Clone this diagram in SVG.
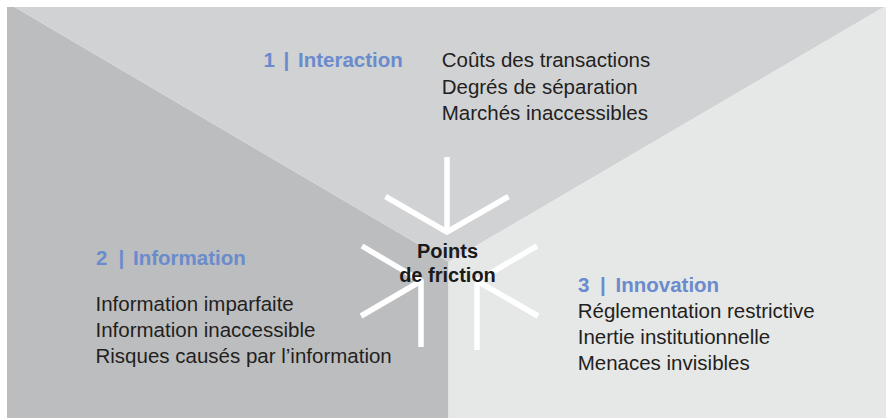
<svg xmlns="http://www.w3.org/2000/svg" width="886" height="418" viewBox="0 0 886 418">
  <style>
    .head { font-family: "Liberation Sans", Arial, sans-serif; font-size: 20.5px; font-weight: bold; fill: #6a8bcc; }
    .item { font-family: "Liberation Sans", Arial, sans-serif; font-size: 20.5px; fill: #231f20; }
    .core { font-family: "Liberation Sans", Arial, sans-serif; font-size: 20px; font-weight: bold; fill: #1a1a1a; text-anchor: middle; }
    .spoke { fill: none; stroke: #ffffff; stroke-width: 5.5; stroke-linecap: butt; stroke-linejoin: miter; }
  </style>

  <!-- background: white margin, three grey sectors -->
  <rect x="0" y="0" width="886" height="418" fill="#ffffff"/>
  <g id="sectors">
    <polygon id="sector-information" points="7,7 14.5,7 448.5,262 448.5,418 7,418" fill="#bcbdbf"/>
    <polygon id="sector-interaction" points="14.5,7 884,7 448.5,262" fill="#d1d2d4"/>
    <polygon id="sector-innovation" points="884,7 886,7 886,418 448.5,418 448.5,262" fill="#e6e7e7"/>
  </g>

  <!-- three arrows converging on the centre -->
  <g id="connectors">
    <!-- from the top -->
    <path class="spoke" d="M447,157 L447,232"/>
    <path class="spoke" d="M385.5,196.5 L447,232 L508.5,196.5"/>
    <!-- from the lower left -->
    <path class="spoke" d="M361,316 L421,281"/>
    <path class="spoke" d="M362,246 L421,281 L421,347"/>
    <!-- from the lower right -->
    <path class="spoke" d="M538,316 L477,281"/>
    <path class="spoke" d="M537,246 L477,281 L477,350"/>
  </g>

  <g id="node-center">
    <text class="core" x="447.5" y="258">Points</text>
    <text class="core" x="447.5" y="282">de friction</text>
  </g>

  <g id="node-interaction">
    <text class="head"><tspan x="263.5" y="66.7">1</tspan><tspan x="283.5" y="66.7">|</tspan><tspan x="298" y="66.7">Interaction</tspan></text>
    <text class="item" x="441.7" y="67.3">Coûts des transactions</text>
    <text class="item" x="441.7" y="93.8">Degrés de séparation</text>
    <text class="item" x="441.7" y="120.3">Marchés inaccessibles</text>
  </g>

  <g id="node-information">
    <text class="head"><tspan x="96" y="265">2</tspan><tspan x="118.5" y="265">|</tspan><tspan x="133" y="265">Information</tspan></text>
    <text class="item" x="95.5" y="311">Information imparfaite</text>
    <text class="item" x="95.5" y="337">Information inaccessible</text>
    <text class="item" x="95.5" y="363">Risques causés par l’information</text>
  </g>

  <g id="node-innovation">
    <text class="head"><tspan x="578" y="291.7">3</tspan><tspan x="600" y="291.7">|</tspan><tspan x="615.5" y="291.7">Innovation</tspan></text>
    <text class="item" x="577.7" y="318.3">Réglementation restrictive</text>
    <text class="item" x="577.7" y="344.2">Inertie institutionnelle</text>
    <text class="item" x="577.7" y="370">Menaces invisibles</text>
  </g>
</svg>
